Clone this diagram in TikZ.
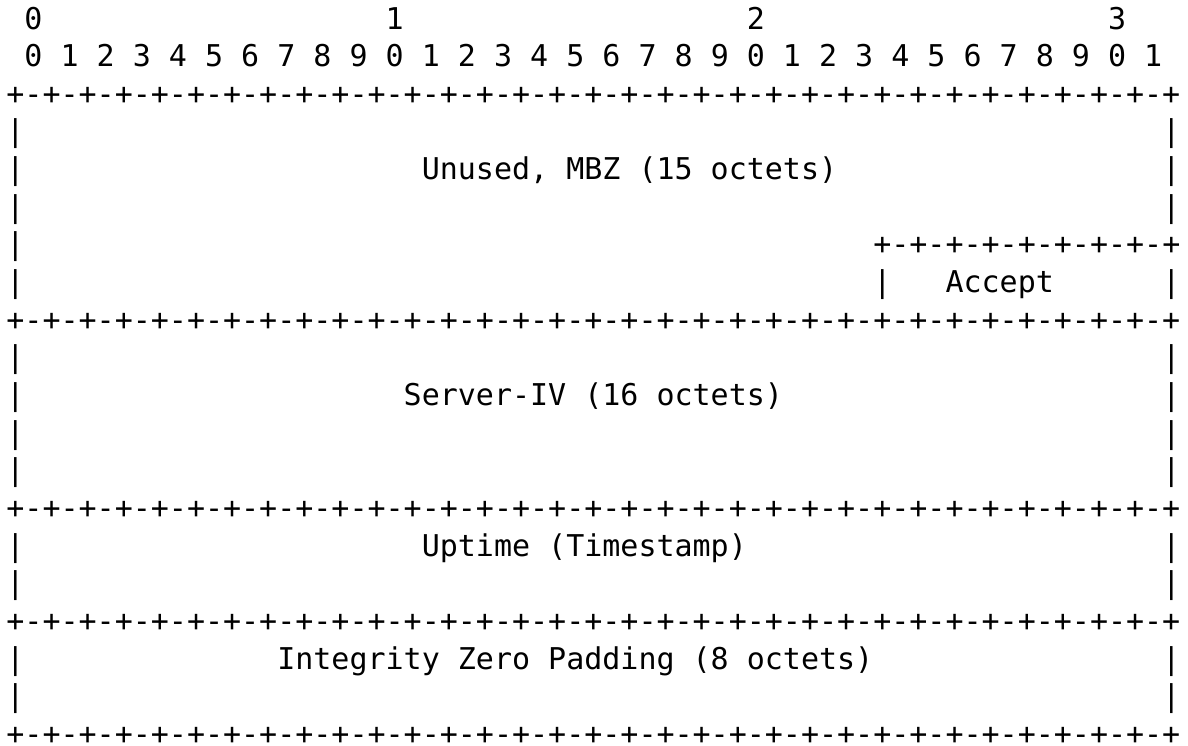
\documentclass[tikz,border=0pt]{standalone}
\usepackage{fontspec}
\newfontfamily\pktmono{DejaVu Sans Mono}
\newcommand\bitrule[1]{\foreach\k in {1,...,#1}{+-}+}

\begin{document}
\begin{tikzpicture}[x=9.03pt,y=-18.825pt,
    ascii/.style={inner sep=0pt,anchor=base west,
      font=\pktmono\fontsize{15pt}{18pt}\selectfont}]
    \useasboundingbox (-3pt,14.5pt) rectangle (591pt,-358pt);
    %
    \foreach \m in {0,...,3}
      \node[ascii] (tens\m) at (20*\m+1,0) {\m};
    \foreach \b [evaluate=\b as \d using {int(mod(\b,10))}] in {0,...,31}
      \node[ascii] (bit\b) at (2*\b+1,1) {\d};
    %
    \foreach \r in {2,8,13,16,19}
      \node[ascii] (rule\r) at (0,\r) {\bitrule{32}};
    \foreach \r in {3,...,7,9,10,11,12,14,15,17,18}
      \node[ascii] (lbar\r) at (0,\r) {|};
    \foreach \r in {3,4,5,7,9,10,11,12,14,15,17,18}
      \node[ascii] (rbar\r) at (64,\r) {|};
    %
    \node[ascii] (unused)  at (23,4)  {Unused, MBZ (15 octets)};
    \node[ascii] (acrule)  at (48,6)  {\bitrule{8}};
    \node[ascii] (acbar)   at (48,7)  {|};
    \node[ascii] (accept)  at (52,7)  {Accept};
    \node[ascii] (iv)      at (22,10) {Server-IV (16 octets)};
    \node[ascii] (uptime)  at (23,14) {Uptime (Timestamp)};
    \node[ascii] (padding) at (15,17) {Integrity Zero Padding (8 octets)};
\end{tikzpicture}
\end{document}
